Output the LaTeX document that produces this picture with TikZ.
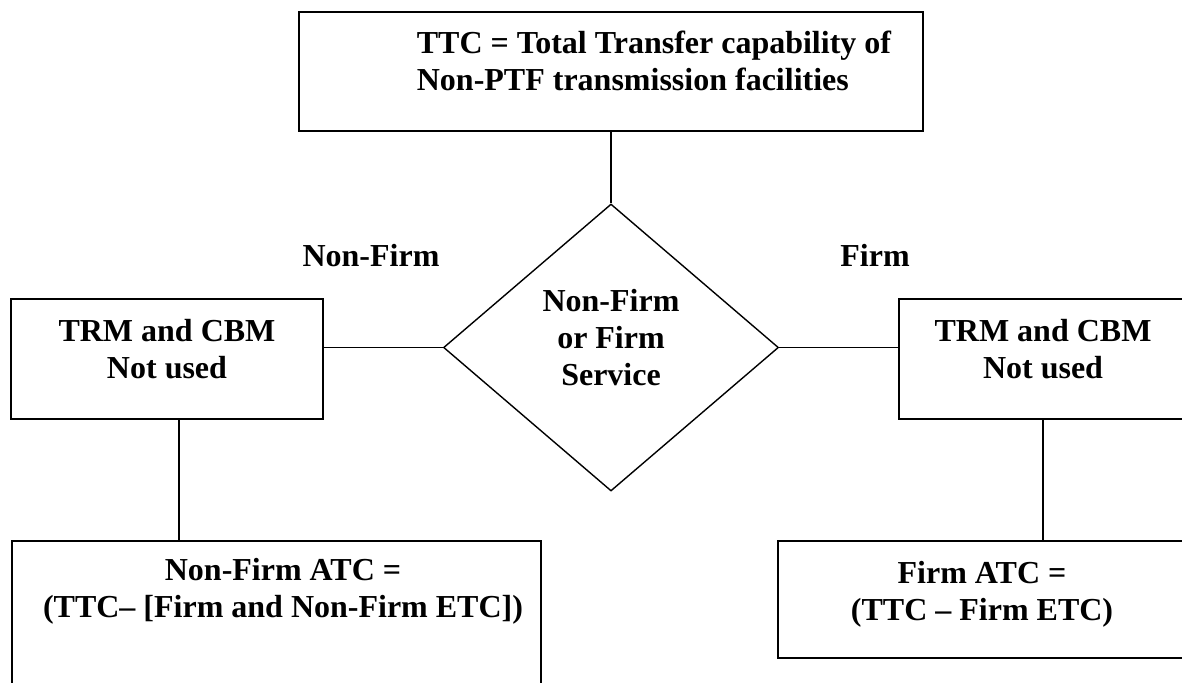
\documentclass[tikz,border=0pt]{standalone}
\usepackage{fontspec}
\setmainfont{Liberation Serif}
\usetikzlibrary{shapes.geometric}

\begin{document}
\begin{tikzpicture}[x=1pt,y=-1pt,line width=1.7pt,
  every node/.style={font=\fontsize{32}{37}\selectfont\bfseries},
  box/.style={draw,rectangle,inner sep=0pt},
  words/.style={align=center,inner sep=0pt,anchor=north}]
\useasboundingbox (0,0) rectangle (1182,682);
\clip (0,0) rectangle (1182,682);
\node [box,minimum width=624pt,minimum height=119pt] (ttc) at (611,71.5) {};
\node [words,align=left,anchor=north west] (ttctext) at (416,30)
{TTC = Total Transfer capability of\\Non-PTF transmission facilities};
\node [draw,diamond,minimum width=335pt,minimum height=287pt,inner sep=0pt,line width=1.4pt] (svc) at (611,347.5) {};
\node [words] (svctext) at (611,288) {Non-Firm\\or Firm\\Service};
\node [words,anchor=base] (nonfirm) at (371,266) {Non-Firm};
\node [words,anchor=base] (firm) at (875,266) {Firm};
\node [box,minimum width=312pt,minimum height=120pt] (trmleft) at (167,359) {};
\node [words] (trmlefttext) at (167,318) {TRM and CBM\\Not used};
\node [box,minimum width=288pt,minimum height=120pt] (trmright) at (1043,359) {};
\node [words] (trmrighttext) at (1043,318) {TRM and CBM\\Not used};
\node [box,minimum width=529pt,minimum height=170pt] (nfatc) at (276.5,626) {};
\node [words] (nfatctext) at (283,557) {Non-Firm ATC =\\(TTC– [Firm and Non-Firm ETC])};
\node [box,minimum width=408pt,minimum height=117pt] (fatc) at (982,599.5) {};
\node [words] (fatctext) at (982,560) {Firm ATC =\\(TTC – Firm ETC)};
\draw (ttc) -- (svc);
\draw (svc.west) -- (svc.west -| trmleft.east);
\draw (svc.east) -- (svc.east -| trmright.west);
\draw ([xshift=12pt]trmleft.south) -- ([xshift=12pt]trmleft.south |- nfatc.north);
\draw (trmright.south) -- (trmright.south |- fatc.north);
\end{tikzpicture}
\end{document}
